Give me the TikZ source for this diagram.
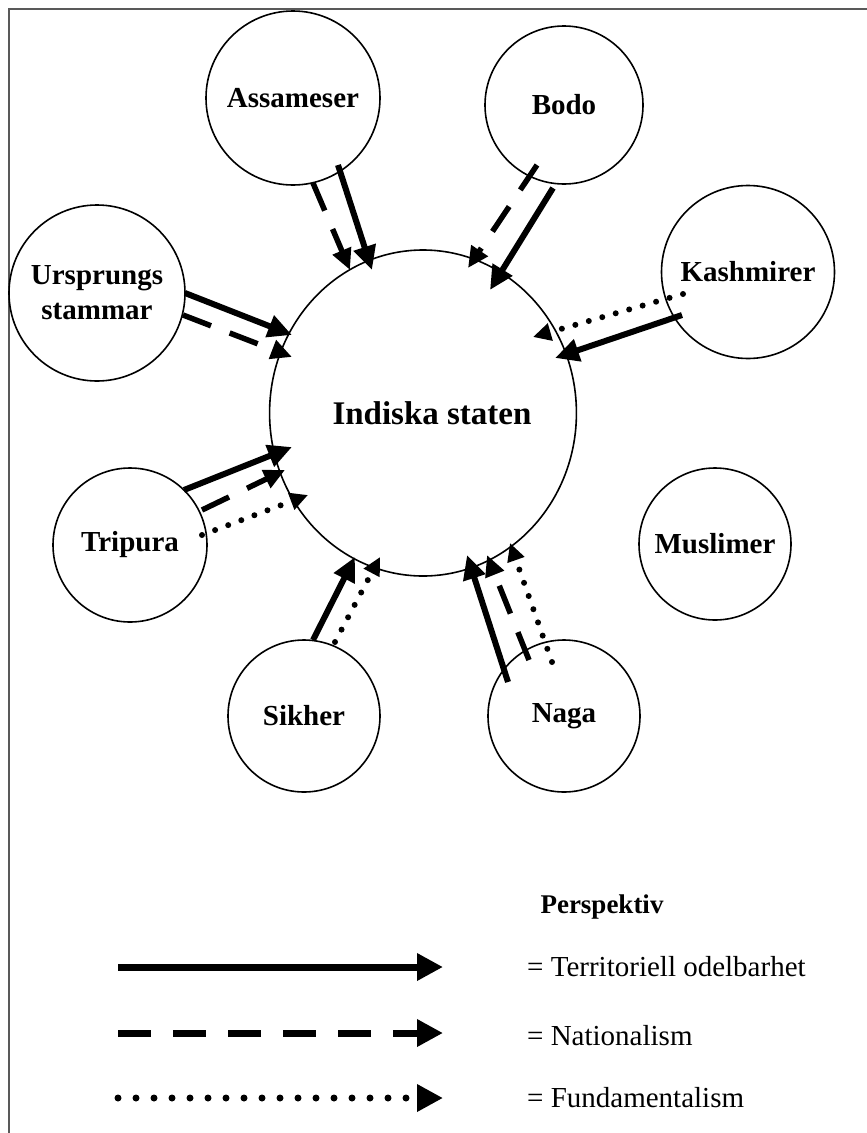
\documentclass[tikz,border=0pt]{standalone}
\usepackage{fontspec}
\setmainfont{Liberation Serif}
\usetikzlibrary{arrows.meta,shapes.geometric,calc}

\begin{document}
\begin{tikzpicture}[x=1pt,y=-1pt]
\tikzstyle{every node}+=[inner sep=0pt]
\tikzstyle{group}=[draw,circle,line width=1.6pt,align=center,font=\fontsize{29}{35}\selectfont\bfseries]
\tikzstyle{terr}=[line width=6pt,-{Triangle[length=24pt,width=22pt]}]
\tikzstyle{nat}=[line width=5.5pt,dash pattern=on 30pt off 20pt,-{Triangle[length=21pt,width=19pt]}]
\tikzstyle{fund}=[line width=6pt,line cap=round,dash pattern=on 0pt off 14pt,-{Triangle[length=18pt,width=17pt]}]
\tikzstyle{keyline}=[line width=7pt,-{Triangle[length=26pt,width=26pt]}]
\useasboundingbox (0,0) rectangle (867,1133);
\draw [black!65,line width=1.5pt] (9,1133) -- (9,9) -- (867,9);
\node [group,minimum size=174pt] (assam) at (293,98) {Assameser};
\node [group,minimum size=158pt] (bodo) at (564,105) {Bodo};
\node [group,minimum size=176pt] (urs) at (97,293) {Ursprungs\\stammar};
\node [group,minimum size=173pt] (kash) at (748,272) {Kashmirer};
\node [group,ellipse,minimum width=304pt,minimum height=326pt,font=\fontsize{33}{40}\selectfont\bfseries] (ind) at (423,413) {\hspace*{18pt}Indiska staten};
\node [group,minimum size=154pt] (trip) at (130,545) {Tripura};
\node [group,minimum size=152pt] (musl) at (715,544) {Muslimer};
\node [group,minimum size=152pt] (sikh) at (304,716) {Sikher};
\node [group,minimum size=152pt] (naga) at (564,716) {Naga};
% pilar mot staten
\draw [terr] ($(assam)+(45,67)$) -- ($(ind)+(-51,-143)$);
\draw [nat] ($(assam)+(20,85)$) -- ($(ind)+(-73,-143)$);
\draw [nat] ($(bodo)+(-27,60)$) -- ($(ind)+(45,-145)$);
\draw [terr] ($(bodo)+(-11,83)$) -- ($(ind)+(67,-123)$);
\draw [fund] ($(kash)+(-65,22)$) -- ($(ind)+(110,-76)$);
\draw [terr] ($(kash)+(-66,43)$) -- ($(ind)+(132,-55)$);
\draw [terr] ($(urs)+(88,0)$) -- ($(ind)+(-131,-78)$);
\draw [nat] ($(urs)+(86,22)$) -- ($(ind)+(-131,-56)$);
\draw [terr] ($(trip)+(54,-55)$) -- ($(ind)+(-131,34)$);
\draw [nat] ($(trip)+(72,-35)$) -- ($(ind)+(-138,57)$);
\draw [fund] ($(trip)+(72,-10)$) -- ($(ind)+(-115,82)$);
\draw [terr] ($(sikh)+(9,-76)$) -- ($(ind)+(-68,144)$);
\draw [fund] ($(sikh)+(31,-74)$) -- ($(ind)+(-43,144)$);
\draw [terr] ($(naga)+(-56,-34)$) -- ($(ind)+(44,142)$);
\draw [nat] ($(naga)+(-35,-56)$) -- ($(ind)+(64,142)$);
\draw [fund] ($(naga)+(-12,-54)$) -- ($(ind)+(87,130)$);
% legend
\node [font=\fontsize{27}{32}\selectfont\bfseries] (persp) at (602,907) {Perspektiv};
\coordinate (t1) at (118,967);
\coordinate (t2) at (443,967);
\coordinate (n1) at (118,1033);
\coordinate (n2) at (443,1033);
\coordinate (f1) at (118,1098);
\coordinate (f2) at (443,1098);
\draw [keyline] (t1) -- (t2);
\draw [keyline,dash pattern=on 33pt off 22pt] (n1) -- (n2);
\draw [keyline,line cap=round,dash pattern=on 0pt off 18pt] (f1) -- (f2);
\node [anchor=west,font=\fontsize{29}{35}\selectfont] (tlab) at (527,967) {= Territoriell odelbarhet};
\node [anchor=west,font=\fontsize{29}{35}\selectfont] (nlab) at (527,1036) {= Nationalism};
\node [anchor=west,font=\fontsize{29}{35}\selectfont] (flab) at (527,1098) {= Fundamentalism};
\end{tikzpicture}
\end{document}
